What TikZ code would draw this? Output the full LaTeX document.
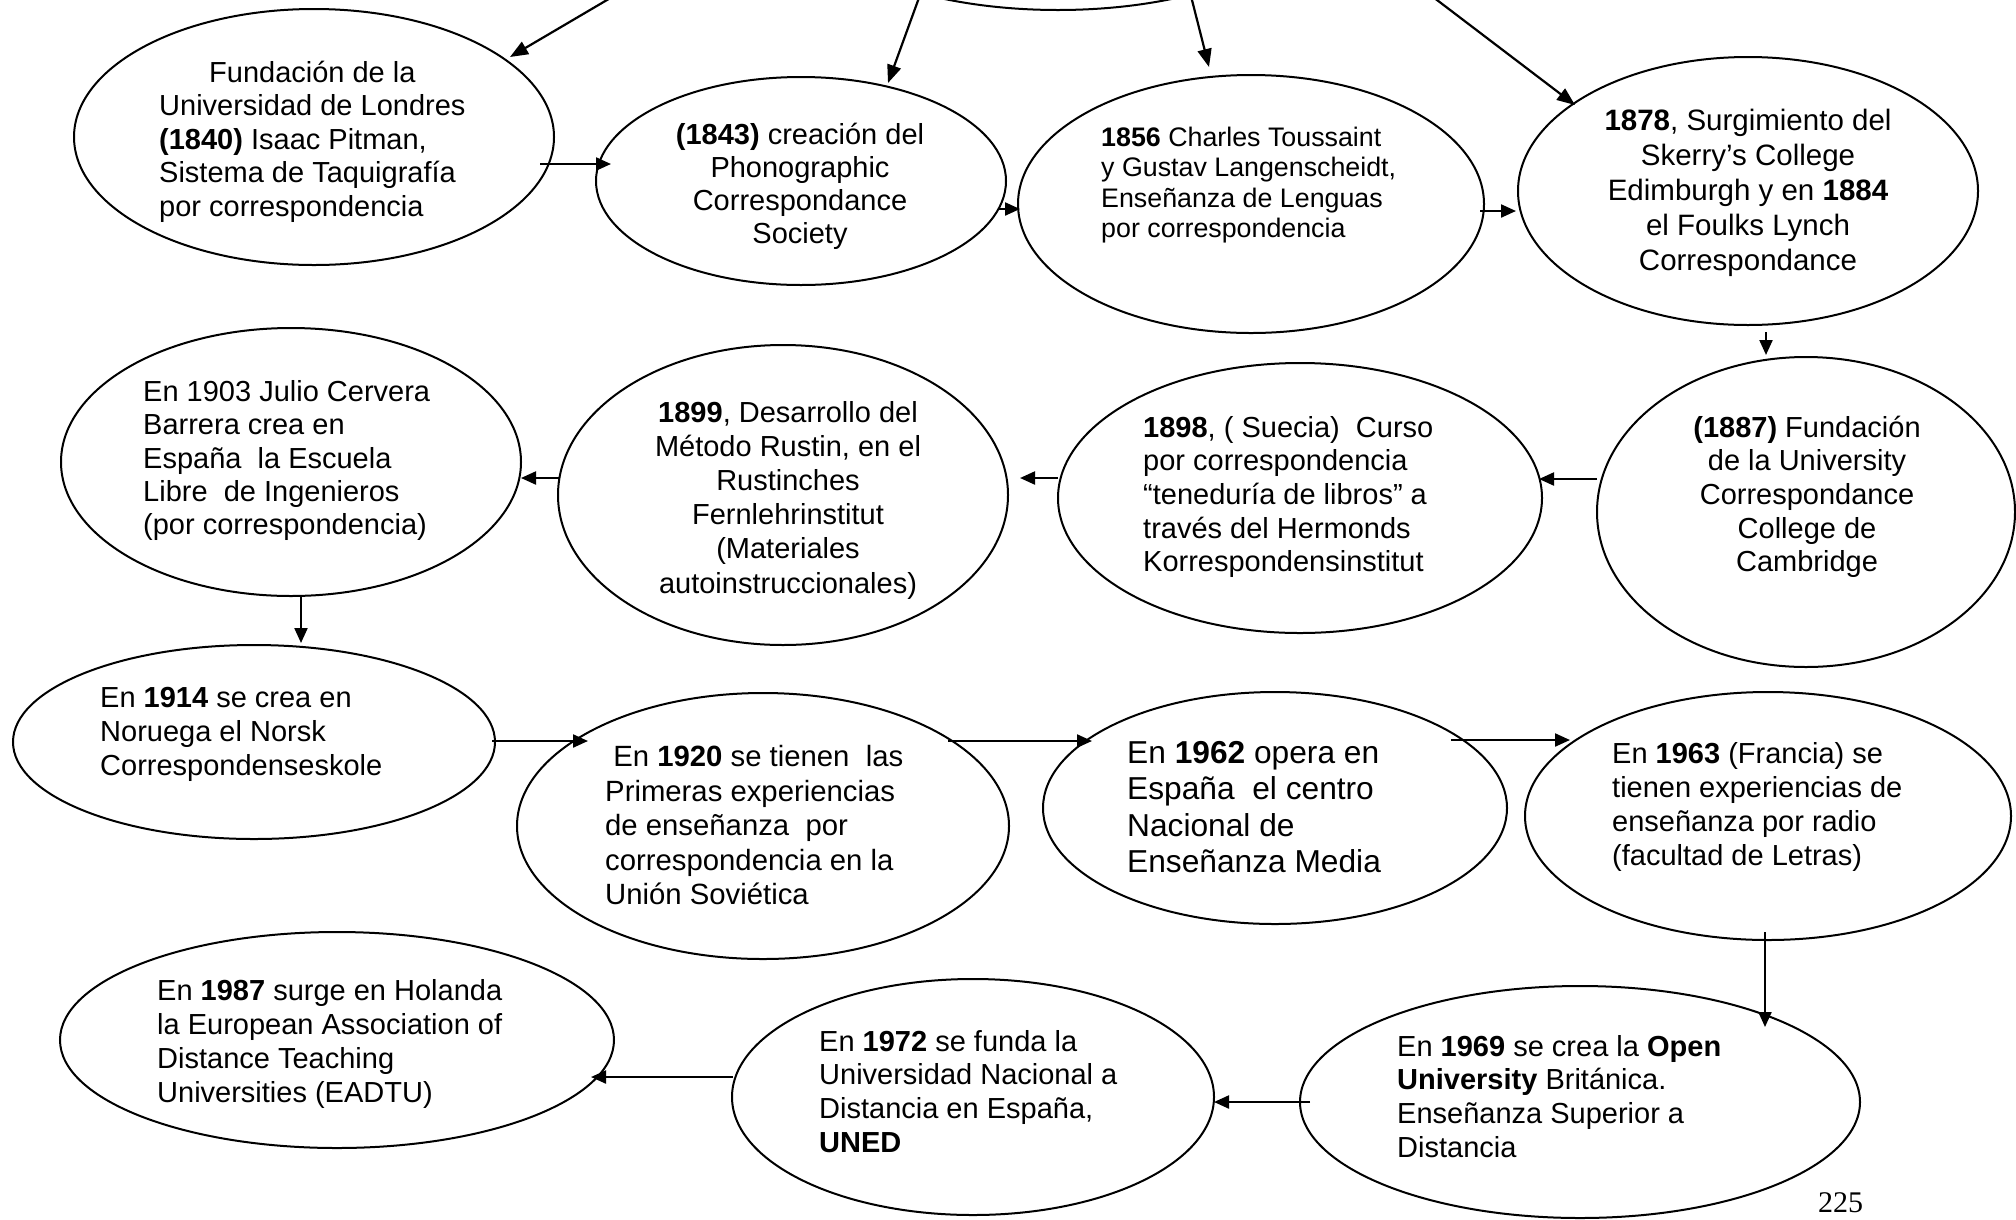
\documentclass[tikz,border=0pt]{standalone}
\usepackage{fontspec}
\setmainfont{Liberation Sans}
\newfontfamily\pagefont{Liberation Serif}
\usetikzlibrary{shapes.geometric,arrows.meta,calc}
\newcommand{\tlft}[1]{\begin{tabular}[t]{@{}l@{}}#1\end{tabular}}
\newcommand{\tctr}[1]{\begin{tabular}[t]{@{}c@{}}#1\end{tabular}}
\begin{document}
\begin{tikzpicture}[x=1pt,y=-1pt,
  ell/.style={draw, ellipse, line width=2pt, inner sep=0pt},
  arr/.style={line width=2.2pt, -{Triangle[length=15pt,width=13pt]}},
  darr/.style={line width=2.2pt, -{Triangle[length=18pt,width=14pt]}},
  tl/.style={inner sep=0pt, anchor=base west},
  tc/.style={inner sep=0pt, anchor=base},
  fa/.style={font=\fontsize{29}{33.6}\selectfont}]
\useasboundingbox (0,0) rectangle (2016,1219);
\clip (0,0) rectangle (2016,1219);
% ellipses
\node[ell, minimum width=520pt, minimum height=220pt] (top) at (1058,-100) {};
\node[ell, minimum width=480pt, minimum height=256pt] (e1) at (314,137) {};
\node[ell, minimum width=410pt, minimum height=208pt] (e2) at (801,181) {};
\node[ell, minimum width=466pt, minimum height=258pt] (e3) at (1251,204) {};
\node[ell, minimum width=460pt, minimum height=268pt] (e4) at (1748,191) {};
\node[ell, minimum width=418pt, minimum height=310pt] (e5) at (1806,512) {};
\node[ell, minimum width=484pt, minimum height=270pt] (e6) at (1300,498) {};
\node[ell, minimum width=450pt, minimum height=300pt] (e7) at (783,495) {};
\node[ell, minimum width=460pt, minimum height=268pt] (e8) at (291,462) {};
\node[ell, minimum width=482pt, minimum height=194pt] (e9) at (254,742) {};
\node[ell, minimum width=492pt, minimum height=266pt] (e10) at (763,826) {};
\node[ell, minimum width=464pt, minimum height=232pt] (e11) at (1275,808) {};
\node[ell, minimum width=486pt, minimum height=248pt] (e12) at (1768,816) {};
\node[ell, minimum width=560pt, minimum height=232pt] (e13) at (1580,1102) {};
\node[ell, minimum width=482pt, minimum height=236pt] (e14) at (973,1097) {};
\node[ell, minimum width=554pt, minimum height=216pt] (e15) at (337,1040) {};
% texts
\node[tl, fa, font=\fontsize{29}{33.5}\selectfont] (t1) at (159,82) {\tlft{\multicolumn{1}{@{}c@{}}{Fundación de la}\\Universidad de Londres\\\textbf{(1840)} Isaac Pitman,\\Sistema de Taquigrafía\\por correspondencia}};
\node[tc, font=\fontsize{29}{33}\selectfont] (t2) at (800,144) {\tctr{\textbf{(1843)} creación del\\Phonographic\\Correspondance\\Society}};
\node[tl, font=\fontsize{26.8}{30.5}\selectfont] (t3) at (1101,146) {\tlft{\textbf{1856} Charles Toussaint\\y Gustav Langenscheidt,\\Enseñanza de Lenguas\\por correspondencia}};
\node[tc, font=\fontsize{29.5}{35}\selectfont] (t4) at (1748,130) {\tctr{\textbf{1878}, Surgimiento del\\Skerry’s College\\Edimburgh y en \textbf{1884}\\el Foulks Lynch\\Correspondance}};
\node[tc, font=\fontsize{29}{33.7}\selectfont] (t5) at (1807,437) {\tctr{\textbf{(1887)} Fundación\\de la University\\Correspondance\\College de\\Cambridge}};
\node[tl, font=\fontsize{29}{33.7}\selectfont] (t6) at (1143,437) {\tlft{\textbf{1898}, ( Suecia)\ \ Curso\\por correspondencia\\“teneduría de libros” a\\través del Hermonds\\Korrespondensinstitut}};
\node[tc, font=\fontsize{29}{34.1}\selectfont] (t7) at (788,422.5) {\tctr{\textbf{1899}, Desarrollo del\\Método Rustin, en el\\Rustinches\\Fernlehrinstitut\\(Materiales\\autoinstruccionales)}};
\node[tl, font=\fontsize{29}{33.3}\selectfont] (t8) at (143,401.5) {\tlft{En 1903 Julio Cervera\\Barrera crea en\\España\ \ la Escuela\\Libre\ \ de Ingenieros\\(por correspondencia)}};
\node[tl, font=\fontsize{29}{34}\selectfont] (t9) at (100,707.5) {\tlft{En \textbf{1914} se crea en\\Noruega el Norsk\\Correspondenseskole}};
\node[tl, font=\fontsize{29.3}{34.5}\selectfont] (t10) at (605,766.7) {\tlft{\ En \textbf{1920} se tienen\ \ las\\Primeras experiencias\\de enseñanza\ \ por\\correspondencia en la\\Unión Soviética}};
\node[tl, font=\fontsize{31.7}{36.6}\selectfont] (t11) at (1127,763) {\tlft{En \textbf{1962} opera en\\España\ \ el centro\\Nacional de\\Enseñanza Media}};
\node[tl, font=\fontsize{29}{34}\selectfont] (t12) at (1612,763) {\tlft{En \textbf{1963} (Francia) se\\tienen experiencias de\\enseñanza por radio\\(facultad de Letras)}};
\node[tl, font=\fontsize{29}{33.7}\selectfont] (t13) at (1397,1056) {\tlft{En \textbf{1969} se crea la \textbf{Open}\\\textbf{University} Británica.\\Enseñanza Superior a\\Distancia}};
\node[tl, font=\fontsize{29}{33.8}\selectfont] (t14) at (819,1051) {\tlft{En \textbf{1972} se funda la\\Universidad Nacional a\\Distancia en España,\\\textbf{UNED}}};
\node[tl, font=\fontsize{29}{34}\selectfont] (t15) at (157,1000) {\tlft{En \textbf{1987} surge en Holanda\\la European Association of\\Distance Teaching\\Universities (EADTU)}};
\node[tl, font=\pagefont\fontsize{30}{34}\selectfont] (pg) at (1818,1212) {225};
% arrows from the top ellipse
\draw[darr] ($(top)+(-442.5,95)$) -- ($(e1)+(196,-80)$);
\draw[darr] ($(top)+(-138,95)$) -- ($(e2)+(87,-98)$);
\draw[darr] ($(top)+(132.7,95)$) -- ($(e3)+(-42,-137)$);
\draw[darr] ($(top)+(372.4,95)$) -- ($(e4)+(-173,-86)$);
% chain
\draw[arr] ($(e1)+(226,27)$) -- ($(e2)+(-190,-17)$);
\draw[arr] ($(e2)+(197,28)$) -- ($(e3)+(-231,5)$);
\draw[arr] ($(e3)+(229,7)$) -- ($(e4)+(-232,20)$);
\draw[arr] ($(e4)+(18,141)$) -- ($(e5)+(-40,-157)$);
\draw[arr] ($(e5)+(-209,-33)$) -- ($(e6)+(239,-19)$);
\draw[arr] ($(e6)+(-242,-20)$) -- ($(e7)+(237,-17)$);
\draw[arr] ($(e7)+(-224,-17)$) -- ($(e8)+(230,16)$);
\draw[arr] ($(e8)+(10,133)$) -- ($(e9)+(47,-99)$);
\draw[arr] ($(e9)+(238,-1)$) -- ($(e10)+(-175,-85)$);
\draw[arr] ($(e10)+(185,-85)$) -- ($(e11)+(-183,-67)$);
\draw[arr] ($(e11)+(176,-68)$) -- ($(e12)+(-198,-76)$);
\draw[arr] ($(e12)+(-3,116)$) -- ($(e13)+(185,-75)$);
\draw[arr] ($(e13)+(-270,0)$) -- ($(e14)+(241,5)$);
\draw[arr] ($(e14)+(-240,-20)$) -- ($(e15)+(254,37)$);
\end{tikzpicture}
\end{document}
